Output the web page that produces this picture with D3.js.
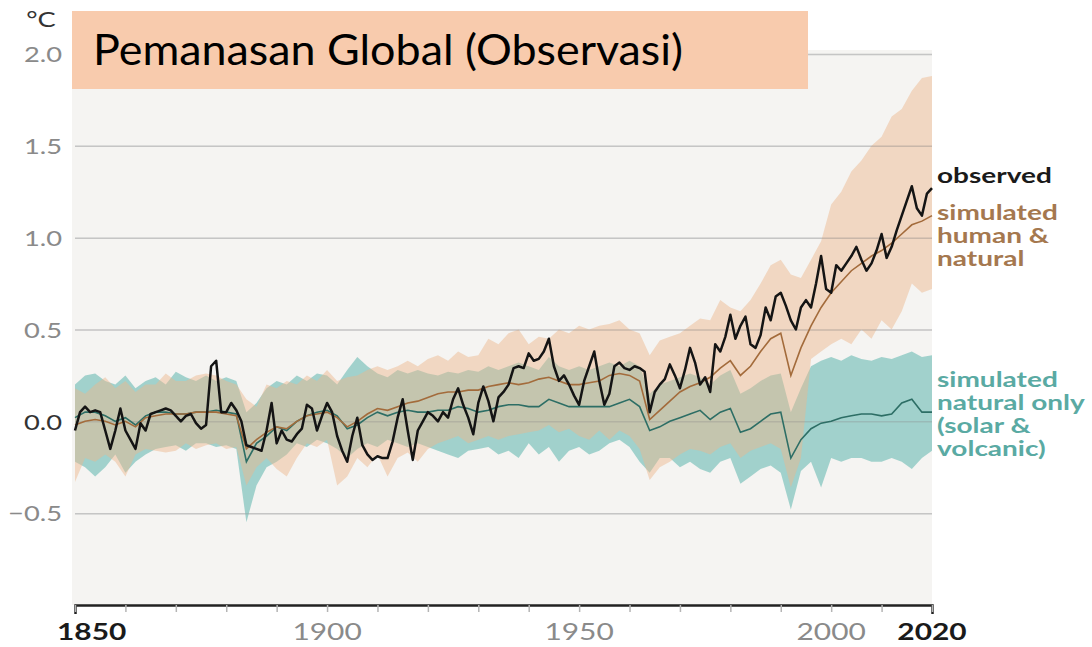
<!DOCTYPE html>
<html>
<head>
<meta charset="utf-8">
<script src="https://cdn.jsdelivr.net/npm/d3@7"></script>
<style>
  body { margin: 0; background: #fff; }
  svg { display: block; font-family: Lato, "Open Sans", sans-serif; }
</style>
</head>
<body>
<svg id="chart" width="1092" height="647"></svg>
<script>
// annual observed anomaly, 1850..2020
const years = d3.range(1850, 2021);
const observed = [
  -0.05, 0.05, 0.08, 0.05, 0.06, 0.05, -0.05, -0.15, -0.05, 0.07,
  -0.05, -0.10, -0.15, -0.01, -0.05, 0.04, 0.05, 0.06, 0.07, 0.06,
  0.03, 0.00, 0.03, 0.04, -0.01, -0.04, -0.02, 0.30, 0.33, 0.05,
  0.05, 0.10, 0.06, 0.00, -0.13, -0.14, -0.15, -0.16, -0.05, 0.10,
  -0.12, -0.05, -0.10, -0.11, -0.07, -0.04, 0.09, 0.07, -0.05, 0.03,
  0.10, 0.05, -0.08, -0.16, -0.22, -0.08, 0.02, -0.13, -0.18, -0.21,
  -0.19, -0.20, -0.20, -0.11, 0.02, 0.12, -0.05, -0.21, -0.05, 0.00,
  0.05, 0.03, 0.00, 0.05, 0.02, 0.12, 0.18, 0.09, 0.02, -0.07,
  0.10, 0.19, 0.11, 0.00, 0.13, 0.16, 0.20, 0.29, 0.30, 0.29,
  0.37, 0.33, 0.34, 0.38, 0.45, 0.30, 0.22, 0.25, 0.20, 0.14,
  0.09, 0.22, 0.30, 0.38, 0.22, 0.09, 0.15, 0.30, 0.32, 0.29,
  0.28, 0.30, 0.29, 0.27, 0.05, 0.16, 0.20, 0.23, 0.31, 0.25,
  0.18, 0.28, 0.40, 0.32, 0.20, 0.24, 0.16, 0.42, 0.38, 0.46,
  0.58, 0.45, 0.52, 0.57, 0.42, 0.40, 0.47, 0.62, 0.55, 0.68,
  0.70, 0.63, 0.55, 0.50, 0.62, 0.66, 0.62, 0.75, 0.90, 0.72,
  0.70, 0.85, 0.82, 0.86, 0.90, 0.95, 0.88, 0.82, 0.86, 0.93,
  1.02, 0.89, 0.95, 1.04, 1.12, 1.20, 1.28, 1.16, 1.12, 1.24,
  1.27
];

// simulations, every 2 years 1850..2020
const simYears = d3.range(1850, 2021, 2);
const humanMean = [
  -0.02, 0.00, 0.01, 0.00, -0.02,
  0.00, -0.03, 0.02, 0.03, 0.04,
  0.04, 0.04, 0.05, 0.05, 0.05,
  0.04, 0.03, -0.15, -0.10, -0.06,
  -0.03, -0.04, 0.00, 0.03, 0.04,
  0.05, 0.02, -0.03, 0.00, 0.04,
  0.07, 0.06, 0.08, 0.10, 0.11,
  0.13, 0.15, 0.16, 0.16, 0.17,
  0.17, 0.19, 0.20, 0.21, 0.20,
  0.21, 0.23, 0.24, 0.22, 0.20,
  0.20, 0.21, 0.22, 0.25, 0.26,
  0.25, 0.22, 0.01, 0.06, 0.11,
  0.16, 0.19, 0.21, 0.24, 0.29,
  0.33, 0.25, 0.30, 0.38, 0.45,
  0.48, 0.25, 0.40, 0.52, 0.62,
  0.70, 0.76, 0.82, 0.86, 0.90,
  0.93, 0.97, 1.02, 1.07, 1.09,
  1.12
];
const humanHigh = [
  0.18, 0.15, 0.20, 0.24, 0.18,
  0.22, 0.16, 0.20, 0.20, 0.26,
  0.22, 0.22, 0.25, 0.26, 0.25,
  0.22, 0.20, 0.12, 0.08, 0.20,
  0.18, 0.22, 0.20, 0.25, 0.22,
  0.28, 0.22, 0.24, 0.25, 0.28,
  0.30, 0.28, 0.30, 0.33, 0.30,
  0.34, 0.36, 0.33, 0.38, 0.35,
  0.36, 0.45, 0.42, 0.48, 0.50,
  0.42, 0.46, 0.45, 0.50, 0.48,
  0.52, 0.50, 0.52, 0.53, 0.55,
  0.50, 0.48, 0.36, 0.44, 0.46,
  0.48, 0.52, 0.56, 0.55, 0.66,
  0.62, 0.60, 0.66, 0.75, 0.85,
  0.88, 0.80, 0.78, 0.88, 0.98,
  1.18, 1.25, 1.36, 1.42, 1.50,
  1.55, 1.66, 1.70, 1.80, 1.87,
  1.88
];
const humanLow = [
  -0.33, -0.20, -0.22, -0.18, -0.22,
  -0.30, -0.18, -0.15, -0.16, -0.17,
  -0.16, -0.12, -0.15, -0.13, -0.12,
  -0.15, -0.14, -0.35, -0.25, -0.20,
  -0.26, -0.30, -0.20, -0.12, -0.14,
  -0.10, -0.35, -0.30, -0.20, -0.25,
  -0.18, -0.30, -0.20, -0.17, -0.22,
  -0.15, -0.12, -0.10, -0.08, -0.12,
  -0.10, -0.08, -0.10, -0.08, -0.07,
  -0.06, -0.05, -0.02, -0.06, -0.04,
  -0.08, -0.10, -0.05, -0.10, -0.05,
  -0.08, -0.15, -0.32, -0.25, -0.22,
  -0.18, -0.15, -0.16, -0.18, -0.14,
  -0.12, -0.20, -0.16, -0.14, -0.12,
  -0.15, -0.36, -0.20, 0.34, 0.38,
  0.42, 0.45, 0.42, 0.50, 0.45,
  0.55, 0.50, 0.60, 0.75, 0.70,
  0.72
];
const naturalMean = [
  0.02, 0.05, 0.05, 0.03, 0.00,
  0.02, -0.02, 0.03, 0.05, 0.05,
  0.04, 0.04, 0.05, 0.05, 0.06,
  0.05, 0.04, -0.22, -0.12, -0.08,
  -0.03, -0.05, 0.00, 0.03, 0.05,
  0.06, 0.03, -0.04, -0.02, 0.02,
  0.05, 0.03, 0.05, 0.06, 0.05,
  0.05, 0.06, 0.06, 0.08, 0.07,
  0.05, 0.06, 0.08, 0.09, 0.09,
  0.08, 0.08, 0.12, 0.10, 0.08,
  0.08, 0.08, 0.08, 0.08, 0.10,
  0.12, 0.08, -0.05, -0.03, 0.00,
  0.02, 0.04, 0.06, 0.01, 0.05,
  0.07, -0.06, -0.04, 0.00, 0.04,
  0.05, -0.20, -0.10, -0.04, -0.01,
  0.00, 0.02, 0.03, 0.04, 0.04,
  0.03, 0.04, 0.10, 0.12, 0.05,
  0.05
];
const naturalHigh = [
  0.20, 0.25, 0.26, 0.22, 0.20,
  0.25, 0.18, 0.22, 0.24, 0.20,
  0.27, 0.24, 0.22, 0.25, 0.22,
  0.24, 0.22, 0.05, 0.10, 0.18,
  0.22, 0.20, 0.25, 0.22, 0.26,
  0.25, 0.20, 0.28, 0.35, 0.30,
  0.26, 0.24, 0.28, 0.26, 0.28,
  0.26, 0.25, 0.27, 0.26, 0.28,
  0.27, 0.30, 0.28, 0.30, 0.32,
  0.30, 0.28, 0.35, 0.30, 0.28,
  0.30, 0.28, 0.30, 0.32, 0.30,
  0.33, 0.30, 0.15, 0.20, 0.22,
  0.24, 0.26, 0.24, 0.20, 0.25,
  0.28, 0.15, 0.18, 0.22, 0.25,
  0.26, 0.05, 0.18, 0.30, 0.33,
  0.35, 0.33, 0.36, 0.34, 0.33,
  0.35, 0.34, 0.36, 0.38, 0.35,
  0.36
];
const naturalLow = [
  -0.22, -0.25, -0.30, -0.25, -0.18,
  -0.28, -0.22, -0.18, -0.15, -0.14,
  -0.13, -0.16, -0.12, -0.12, -0.14,
  -0.13, -0.15, -0.55, -0.35, -0.25,
  -0.22, -0.18, -0.12, -0.14, -0.10,
  -0.12, -0.15, -0.20, -0.15, -0.12,
  -0.14, -0.10, -0.12, -0.14, -0.12,
  -0.14, -0.16, -0.18, -0.20, -0.16,
  -0.15, -0.14, -0.18, -0.16, -0.20,
  -0.12, -0.18, -0.14, -0.22, -0.16,
  -0.14, -0.18, -0.16, -0.12, -0.10,
  -0.14, -0.22, -0.28, -0.20, -0.20,
  -0.25, -0.22, -0.26, -0.28, -0.22,
  -0.20, -0.34, -0.30, -0.26, -0.24,
  -0.28, -0.48, -0.27, -0.22, -0.36,
  -0.20, -0.22, -0.20, -0.20, -0.22,
  -0.22, -0.20, -0.22, -0.26, -0.20,
  -0.16
];

const yTicks = [2.0, 1.5, 1.0, 0.5, 0.0, -0.5];
const xMinorTicks = d3.range(1850, 2021, 10);
const xTickLabels = [1850, 1900, 1950, 2000, 2020];
const humanLabel = ['simulated', 'human &', 'natural'];
const naturalLabel = ['simulated', 'natural only', '(solar &', 'volcanic)'];
const title = 'Pemanasan Global (Observasi)';

const svg = d3.select('#chart');
const x = d3.scaleLinear().domain([1850, 2020]).range([75, 932]);
const y = d3.scaleLinear().domain([-1, 2]).range([605, 54]);
const SX = 1.3;   // the chart text in the picture is stretched sideways
const SXL = 1.4;  // series labels a bit more

svg.append('rect')
   .attr('x', 72).attr('y', 50)
   .attr('width', 932 - 72).attr('height', 605 - 50)
   .attr('fill', '#f5f4f2');

const grid = (g, color) => g
  .call(d3.axisLeft(y).tickValues(yTicks).tickSize(-(932 - 75)).tickFormat(''))
  .call(g => g.select('.domain').remove())
  .call(g => g.selectAll('line').attr('stroke', color).attr('stroke-width', 1.5));

svg.append('g').attr('transform', 'translate(75,0)').call(grid, '#dedede');

const sim = simYears.map((yr, i) => ({
  yr, hm: humanMean[i], hh: humanHigh[i], hl: humanLow[i],
  nm: naturalMean[i], nh: naturalHigh[i], nl: naturalLow[i]
}));

const band = (lo, hi) => d3.area()
  .x(d => x(d.yr)).y0(d => y(d[lo])).y1(d => y(d[hi]));

svg.append('path').datum(sim)
   .attr('d', band('nl', 'nh'))
   .attr('fill', '#98cdc8').attr('fill-opacity', 0.9);

svg.append('path').datum(sim)
   .attr('d', band('hl', 'hh'))
   .attr('fill', '#ecb78c').attr('fill-opacity', 0.47);

svg.append('g').attr('transform', 'translate(75,0)').call(grid, 'rgba(140,140,140,0.3)');

const simLine = key => d3.line().x(d => x(d.yr)).y(d => y(d[key]));

svg.append('path').datum(sim)
   .attr('d', simLine('nm'))
   .attr('fill', 'none').attr('stroke', '#2d6e65').attr('stroke-width', 1.6);

svg.append('path').datum(sim)
   .attr('d', simLine('hm'))
   .attr('fill', 'none').attr('stroke', '#a36b3b').attr('stroke-width', 1.6);

svg.append('path').datum(years)
   .attr('d', d3.line().x(d => x(d)).y((d, i) => y(observed[i])))
   .attr('fill', 'none').attr('stroke', '#141414')
   .attr('stroke-width', 2.5).attr('stroke-linejoin', 'round');

// x axis
svg.append('g')
   .attr('transform', 'translate(0,605)')
   .call(d3.axisBottom(x).tickValues(xMinorTicks).tickSize(7).tickSizeOuter(9).tickFormat(''))
   .call(g => g.select('.domain').attr('stroke', '#222').attr('stroke-width', 2.5))
   .call(g => g.selectAll('.tick line').attr('stroke', '#b5b5b5').attr('stroke-width', 1.5));

const stretched = (px, py, s) => `translate(${px},${py}) scale(${s || SX},1)`;

svg.selectAll('text.xlab')
   .data(xTickLabels)
   .enter()
   .append('text')
   .attr('class', 'xlab')
   .attr('transform', (d, i) => stretched(i === 0 ? x(d) - 18 : x(d), 640))
   .attr('text-anchor', (d, i) => i === 0 ? 'start' : 'middle')
   .attr('font-size', 23)
   .attr('font-weight', (d, i) => (i === 0 || i === xTickLabels.length - 1) ? 700 : 400)
   .attr('fill', (d, i) => (i === 0 || i === xTickLabels.length - 1) ? '#1a1a1a' : '#8a8a8a')
   .text(d => d);

svg.selectAll('text.ylab')
   .data(yTicks)
   .enter()
   .append('text')
   .attr('class', 'ylab')
   .attr('transform', d => stretched(62, y(d)))
   .attr('text-anchor', 'end')
   .attr('dominant-baseline', 'central')
   .attr('font-size', 21)
   .attr('fill', d => d === 0 ? '#333' : '#8a8a8a')
   .text(d => d3.format('.1f')(d));

svg.append('text')
   .attr('transform', stretched(41, 27))
   .attr('text-anchor', 'middle')
   .attr('font-size', 21)
   .attr('fill', '#333')
   .text('°C');

// series labels on the right
svg.append('text')
   .attr('transform', stretched(937, 183, SXL))
   .attr('font-size', 20).attr('font-weight', 700).attr('fill', '#1a1a1a')
   .text('observed');

svg.selectAll('text.hlab')
   .data(humanLabel)
   .enter()
   .append('text')
   .attr('class', 'hlab')
   .attr('transform', (d, i) => stretched(937, 220 + i * 23, SXL))
   .attr('font-size', 20).attr('font-weight', 700).attr('fill', '#a5784f')
   .text(d => d);

svg.selectAll('text.nlab')
   .data(naturalLabel)
   .enter()
   .append('text')
   .attr('class', 'nlab')
   .attr('transform', (d, i) => stretched(937, 387 + i * 23, SXL))
   .attr('font-size', 20).attr('font-weight', 700).attr('fill', '#5aaaa3')
   .text(d => d);

// title box
svg.append('rect')
   .attr('x', 72).attr('y', 11)
   .attr('width', 736).attr('height', 78)
   .attr('fill', '#f8cbad');

svg.append('text')
   .attr('x', 93).attr('y', 65)
   .attr('font-size', 42)
   .attr('fill', '#000')
   .attr('textLength', 590)
   .attr('lengthAdjust', 'spacingAndGlyphs')
   .text(title);
</script>
</body>
</html>
